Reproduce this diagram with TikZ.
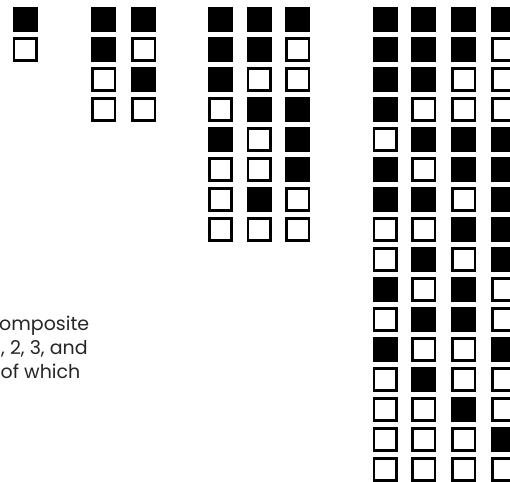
\documentclass[tikz,border=0pt]{standalone}
\usepackage{fontspec}
\setmainfont{Poppins}
\newcommand\sqgroup[3]{%
  \foreach \row [count=\r] in {#3} {%
    \foreach \v [count=\c] in \row {%
      \pgfmathsetmacro\xx{{#2}[\c-1]}%
      \pgfmathsetmacro\yy{19.5+30*(\r-1)}%
      \ifnum\v=1 \def\st{on}\else\def\st{off}\fi
      \node[\st] (#1-\r-\c) at (\xx,\yy) {};
    }%
  }%
}
\begin{document}
\begin{tikzpicture}[x=1pt,y=-1pt,
  on/.style={fill=black,draw=none,minimum width=25,minimum height=24.4,inner sep=0},
  off/.style={draw=black,fill=white,line width=2.6,minimum width=22.4,minimum height=21.8,inner sep=0},
  txt/.style={anchor=base west,inner sep=0,font=\fontsize{19}{23}\selectfont,text=black!85}]
\useasboundingbox (0,0) rectangle (510,481);
\clip (0,0) rectangle (510,481);
\sqgroup{ga}{25,25}{{1},{0}}
\sqgroup{gb}{103.8,143.8}{{1,1},{1,0},{0,1},{0,0}}
\sqgroup{gc}{220.5,259.2,297.8}{{1,1,1},{1,1,0},{1,0,0},{0,1,1},{1,0,1},{0,0,1},{0,1,0},{0,0,0}}
\sqgroup{gd}{385,423.8,463.8,503.8}{{1,1,1,1},{1,1,1,0},{1,1,0,0},{1,0,0,0},{0,1,1,1},{1,0,1,1},{1,1,0,1},{0,0,1,1},{0,1,0,1},{1,0,1,0},{0,1,1,0},{1,0,0,1},{0,1,0,0},{0,0,1,0},{0,0,0,1},{0,0,0,0}}
\node[txt] (t1) at (-1,330) {omposite};
\node[txt] (t2) at (1,354) {, 2, 3, and};
\node[txt] (t3) at (0.5,378) {of which};
\end{tikzpicture}
\end{document}
